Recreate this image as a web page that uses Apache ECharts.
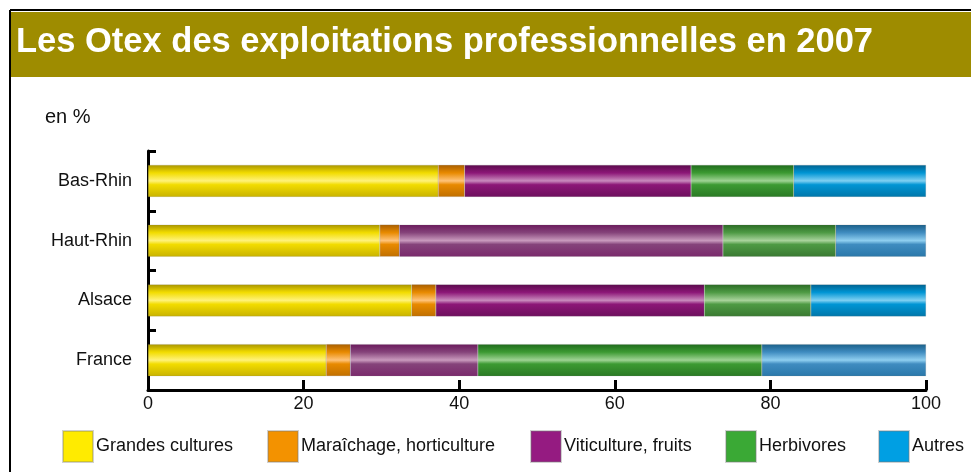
<!DOCTYPE html>
<html>
<head>
<meta charset="utf-8">
<script src="https://cdn.jsdelivr.net/npm/echarts@6/dist/echarts.min.js"></script>
<style>
html, body { margin: 0; padding: 0; background: #fff; }
#chart { width: 971px; height: 472px; }
</style>
</head>
<body>
<div id="chart"></div>
<script>
var categories = ["Bas-Rhin", "Haut-Rhin", "Alsace", "France"];
var seriesNames = ["Grandes cultures", "Maraîchage, horticulture", "Viticulture, fruits", "Herbivores", "Autres"];
var grandes = [37.3, 29.8, 33.9, 22.9];
var maraichage = [3.4, 2.5, 3.1, 3.1];
var viticulture = [29.1, 41.6, 34.5, 16.4];
var herbivores = [13.2, 14.5, 13.7, 36.5];
var autres = [17.0, 11.6, 14.8, 21.1];
var xTicks = [0, 20, 40, 60, 80, 100];
var legendLeft = [62, 267, 530, 725, 878];

// couleurs : [haut sombre, base, reflet, bas, legende]
var palette = [
  ["#a89400", "#f2dc00", "#fff27a", "#c9b300", "#ffeb00"],
  ["#a85e00", "#e88a00", "#ffc37a", "#c06f00", "#f39200"],
  ["#5a0a4c", "#8c1777", "#c98bbd", "#6e0f5e", "#951b81"],
  ["#1f6a1c", "#3c9a32", "#9fd394", "#2a7a24", "#3aa935"],
  ["#00628f", "#0095d4", "#7fd0f2", "#0077aa", "#009fe3"]
];
// teintes délavées de certains segments
var pale = [
  null,
  null,
  ["#6a1a5c", "#85437a", "#c99abd", "#7a2a6c"],
  ["#2a6a24", "#4e9a44", "#a9d39c", "#3a7a32"],
  ["#1a5f88", "#3f8cc0", "#8fcff0", "#2a78aa"]
];
var paleRows = [
  [],
  [],
  ["Haut-Rhin", "France"],
  ["Haut-Rhin", "Alsace"],
  ["Haut-Rhin", "France"]
];

function grad(c) {
  return new echarts.graphic.LinearGradient(0, 0, 0, 1, [
    { offset: 0, color: c[0] },
    { offset: 0.25, color: c[1] },
    { offset: 0.5, color: c[2] },
    { offset: 0.62, color: c[1] },
    { offset: 1, color: c[3] }
  ]);
}

var rows = categories.slice().reverse();
var data = [grandes, maraichage, viticulture, herbivores, autres];
var series = data.map(function (vals, i) {
  var items = vals.slice().reverse().map(function (v, j) {
    var it = { value: v };
    if (paleRows[i].indexOf(rows[j]) >= 0) it.itemStyle = { color: grad(pale[i]) };
    return it;
  });
  return {
    name: seriesNames[i],
    type: "bar",
    stack: "total",
    barWidth: 32,
    data: items,
    itemStyle: { color: grad(palette[i]), borderColor: "rgba(120,120,120,0.35)", borderWidth: 0.5 },
    emphasis: { disabled: true }
  };
});

var legends = seriesNames.map(function (n, i) {
  return {
    left: legendLeft[i],
    top: 430,
    padding: 0,
    icon: "rect",
    itemWidth: 30,
    itemHeight: 31,
    selectedMode: false,
    textStyle: { fontSize: 18, color: "#111", padding: [2, 0, 0, -2] },
    data: [{ name: n, itemStyle: { color: palette[i][4] } }]
  };
});

var chart = echarts.init(document.getElementById("chart"), null, { renderer: "canvas" });
chart.setOption({
  animation: false,
  textStyle: { fontFamily: "Liberation Sans, Arial, sans-serif" },
  graphic: [
    { type: "rect", shape: { x: 11, y: 12, width: 960, height: 65 }, style: { fill: "#9e8c00" }, z: 0 },
    { type: "line", shape: { x1: 10, y1: 10, x2: 971, y2: 10 }, style: { stroke: "#000", lineWidth: 2 } },
    { type: "line", shape: { x1: 10, y1: 10, x2: 10, y2: 472 }, style: { stroke: "#000", lineWidth: 2 } },
    { type: "text", left: 16, top: 25, style: { text: "Les Otex des exploitations professionnelles en 2007", fill: "#fff", font: "bold 34.5px Liberation Sans, Arial, sans-serif" } },
    { type: "text", left: 45, top: 107, style: { text: "en %", fill: "#111", font: "20px Liberation Sans, Arial, sans-serif" } }
  ],
  legend: legends,
  grid: { left: 148, right: 45, top: 151, bottom: 82, containLabel: false },
  xAxis: {
    type: "value",
    min: xTicks[0],
    max: xTicks[xTicks.length - 1],
    interval: 20,
    axisLine: { show: true, lineStyle: { color: "#000", width: 3 } },
    axisTick: { show: true, inside: true, length: 10, lineStyle: { color: "#000", width: 3 } },
    axisLabel: { fontSize: 18, color: "#111", margin: 5 },
    splitLine: { show: false }
  },
  yAxis: {
    type: "category",
    data: rows,
    axisLine: { show: true, lineStyle: { color: "#000", width: 3 } },
    axisTick: { show: true, inside: true, length: 8, lineStyle: { color: "#000", width: 3 } },
    axisLabel: { fontSize: 18, color: "#111", margin: 16 }
  },
  series: series
});
</script>
</body>
</html>
